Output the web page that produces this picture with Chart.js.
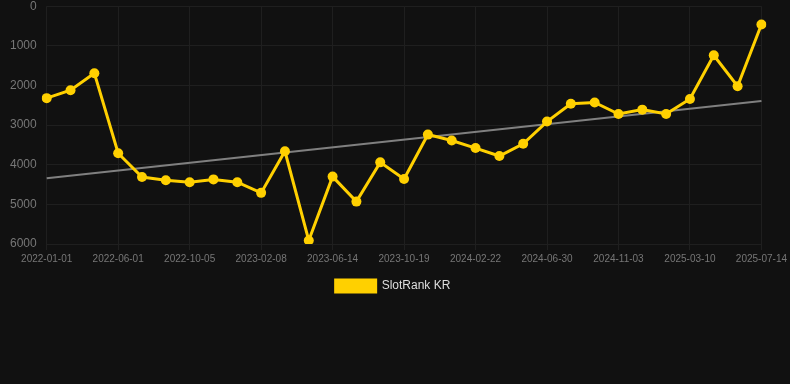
<!DOCTYPE html>
<html lang="en">
<head>
    <meta charset="UTF-8">
    <title>SlotRank KR</title>
    <script src="https://cdn.jsdelivr.net/npm/chart.js"></script>
    <style>
        html, body {
            margin: 0;
            padding: 0;
            background-color: #111111;
            overflow: hidden;
        }
        .chart-container {
            width: 790px;
            height: 313px;
            margin-top: -11px; /* the top label sits half off the page, like the original */
            position: relative;
        }
    </style>
</head>
<body>
    <div class="chart-container">
        <canvas id="rankChart"></canvas>
    </div>

    <script>
        const dates = [
            '2022-01-01', '2022-02-20', '2022-04-11', '2022-06-01', '2022-07-13', '2022-08-24',
            '2022-10-05', '2022-11-16', '2022-12-28', '2023-02-08', '2023-03-22', '2023-05-03',
            '2023-06-14', '2023-07-26', '2023-09-06', '2023-10-19', '2023-11-30', '2024-01-11',
            '2024-02-22', '2024-04-05', '2024-05-18', '2024-06-30', '2024-08-11', '2024-09-22',
            '2024-11-03', '2024-12-15', '2025-01-26', '2025-03-10', '2025-04-21', '2025-06-02',
            '2025-07-14'
        ];
        const rankValues = [
            2320, 2120, 1690, 3710, 4310, 4390, 4440, 4370, 4440, 4710, 3660, 5910,
            4300, 4930, 3940, 4360, 3240, 3390, 3580, 3780, 3470, 2910, 2460, 2430,
            2720, 2610, 2720, 2340, 1240, 2020, 460
        ];
        const trendValues = dates.map(() => null);
        trendValues[0] = 4340;
        trendValues[dates.length - 1] = 2390;

        const yTicks = [0, 1000, 2000, 3000, 4000, 5000, 6000];

        const ctx = document.getElementById('rankChart').getContext('2d');
        const rankChart = new Chart(ctx, {
            type: 'line',
            data: {
                labels: dates,
                datasets: [
                    {
                        label: 'SlotRank KR',
                        data: rankValues,
                        borderColor: '#FFD000',
                        backgroundColor: '#FFD000',
                        borderWidth: 3,
                        pointRadius: 5,
                        pointBorderWidth: 0,
                        pointBackgroundColor: '#FFD000',
                        tension: 0,
                        order: 1
                    },
                    {
                        label: 'Trend',
                        data: trendValues,
                        borderColor: '#808080',
                        backgroundColor: '#808080',
                        borderWidth: 2,
                        pointRadius: 0,
                        spanGaps: true,
                        order: 2
                    }
                ]
            },
            options: {
                responsive: true,
                maintainAspectRatio: false,
                animation: false,
                layout: {
                    padding: { left: 0, right: 4, top: 0, bottom: 0 }
                },
                plugins: {
                    legend: {
                        position: 'bottom',
                        labels: {
                            filter: (item) => item.text !== 'Trend',
                            color: '#dddddd',
                            font: { family: 'Liberation Sans, Arial', size: 12 },
                            boxWidth: 40,
                            boxHeight: 12,
                            padding: 12
                        }
                    },
                    tooltip: { enabled: false }
                },
                scales: {
                    x: {
                        grid: {
                            color: '#1f1f1f',
                            drawTicks: true,
                            tickLength: 6
                        },
                        border: { display: false },
                        ticks: {
                            color: '#777777',
                            font: { family: 'Liberation Sans, Arial', size: 10 },
                            maxRotation: 0,
                            autoSkip: true,
                            maxTicksLimit: 11,
                            padding: 3
                        }
                    },
                    y: {
                        reverse: true,
                        min: 0,
                        max: 6000,
                        afterBuildTicks: (axis) => {
                            axis.ticks = yTicks.map(v => ({ value: v }));
                        },
                        grid: {
                            color: '#1f1f1f',
                            drawTicks: false
                        },
                        border: { display: false },
                        ticks: {
                            color: '#777777',
                            font: { family: 'Liberation Sans, Arial', size: 12 },
                            padding: 10,
                            callback: (value) => String(value)
                        }
                    }
                }
            }
        });
    </script>
</body>
</html>
